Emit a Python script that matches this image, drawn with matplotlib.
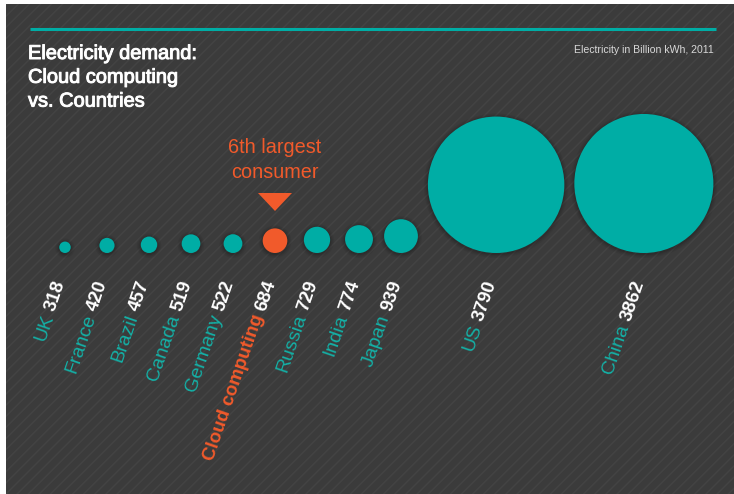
import numpy as np
import matplotlib.pyplot as plt
import matplotlib.patheffects as pe
from matplotlib.patches import Circle, Rectangle, Polygon

plt.rcParams['hatch.linewidth'] = 1.1

# electricity use, billion kWh (2011)
names = ['UK', 'France', 'Brazil', 'Canada', 'Germany', 'Cloud computing',
         'Russia', 'India', 'Japan', 'US', 'China']
values = [318, 420, 457, 519, 522, 684, 729, 774, 939, 3790, 3862]
highlight = 'Cloud computing'

TEAL = '#00ada5'
NAME_TEAL = '#14b0a6'
ORANGE = '#f15a2b'
BG = '#3b3b3b'
STRIPE = '#434343'

W, H = 734, 494
fig = plt.figure(figsize=(W / 100, H / 100), dpi=100, facecolor='white')
ax = fig.add_axes([0, 0, 1, 1])
ax.set_xlim(0, W)
ax.set_ylim(H, 0)
ax.axis('off')

# striped dark panel
ax.add_patch(Rectangle((6, 4), W - 6, H - 4, facecolor=BG, edgecolor=STRIPE,
                       hatch='///', linewidth=0, zorder=0))

ax.plot([30, 716], [29, 29], color=TEAL, lw=2.2, solid_capstyle='butt', zorder=2)

ax.text(28, 44, 'Electricity demand:\nCloud computing\nvs. Countries',
        color='white', fontsize=14.4, family='Liberation Sans', va='top',
        linespacing=1.32, zorder=3,
        path_effects=[pe.withStroke(linewidth=0.7, foreground='white')])
ax.text(714, 50, 'Electricity in Billion kWh, 2011', color='#d8d8d8',
        fontsize=7.6, family='Liberation Sans', ha='right', va='center', zorder=3)

# circle radius grows linearly with the value, bottoms on one baseline
scale = 0.018
base_y = 253
radii = [v * scale for v in values]
xs = [65]
for i in range(1, len(values)):
    xs.append(xs[-1] + max(42, radii[i - 1] + radii[i] + 10))

for x, r, name in zip(xs, radii, names):
    col = ORANGE if name == highlight else TEAL
    cy = base_y - r
    # soft shadow
    for k, a in [(4, 0.05), (2.5, 0.07), (1.2, 0.1)]:
        ax.add_patch(Circle((x, cy + 1), r + k, facecolor='black', alpha=a,
                            linewidth=0, zorder=1))
    ax.add_patch(Circle((x, cy), r, facecolor=col, linewidth=0, zorder=2))

# rotated labels: bold value at the top end, name running down-left
ang = 71
d = np.array([np.cos(np.radians(ang)), -np.sin(np.radians(ang))])
renderer = fig.canvas.get_renderer()
label_fs = 13.5
for x, v, name in zip(xs, values, names):
    p = np.array([x - 4, 281.0])
    ax.text(p[0], p[1], str(v), color='white', fontsize=label_fs,
            fontweight='bold', family='Liberation Sans', rotation=ang,
            rotation_mode='anchor', ha='right', va='center', zorder=3)
    tmp = ax.text(0, 0, str(v), fontsize=label_fs, fontweight='bold',
                  family='Liberation Sans')
    w = tmp.get_window_extent(renderer).width
    tmp.remove()
    q = p - (w + 5) * d
    if name == highlight:
        ax.text(q[0], q[1], name, color=ORANGE, fontsize=label_fs,
                fontweight='bold', family='Liberation Sans', rotation=ang,
                rotation_mode='anchor', ha='right', va='center', zorder=3)
    else:
        ax.text(q[0], q[1], name, color=NAME_TEAL, fontsize=label_fs + 0.5,
                family='Liberation Sans', rotation=ang,
                rotation_mode='anchor', ha='right', va='center', zorder=3)

# call-out above the highlighted circle
hx = xs[names.index(highlight)]
ax.text(hx, 160, '6th largest\nconsumer', color=ORANGE, fontsize=14.3,
        family='Liberation Sans', ha='center', va='center', linespacing=1.35,
        zorder=3)
ax.add_patch(Polygon([(hx - 17, 193), (hx + 17, 193), (hx, 211)],
                     closed=True, facecolor=ORANGE, linewidth=0, zorder=3))

fig.savefig('out.png', dpi=100, facecolor='white')
